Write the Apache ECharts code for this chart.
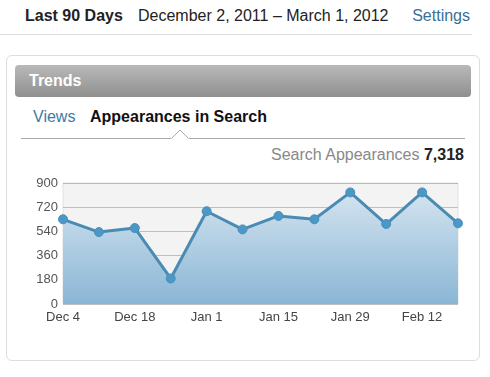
<!DOCTYPE html>
<html><head><meta charset="utf-8">
<script src="https://cdn.jsdelivr.net/npm/echarts@6/dist/echarts.min.js"></script>
<style>
html,body{margin:0;padding:0;width:490px;height:377px;background:#fff;overflow:hidden;font-family:"Liberation Sans",Arial,sans-serif;}
.abs{position:absolute;white-space:nowrap;}
#hdr1{left:25px;top:7px;font-size:16px;font-weight:bold;color:#222;}
#hdr2{left:138px;top:7px;font-size:16px;color:#222;}
#set{right:20px;top:7px;font-size:16px;color:#3b6e96;}
#hline{left:0;top:34px;width:472px;height:1px;background:#ddd;}
#panel{left:6px;top:55px;width:472px;height:304px;border:1px solid #ddd;border-radius:6px;}
#bar{left:15px;top:65px;width:456px;height:32px;border-radius:4px;background:linear-gradient(#b9b9b9,#8f8f8f);}
#trends{left:29px;top:72px;font-size:16px;font-weight:bold;color:#fff;}
#views{left:33px;top:108px;font-size:16px;color:#3a7aa8;}
#app{left:90px;top:108px;font-size:16px;font-weight:bold;color:#111;}
#tline{left:21px;top:138px;width:444px;height:1px;background:#aaa;}
#sa{right:26px;top:146px;font-size:16px;color:#888;}
#sa b{color:#222;}
#chart{left:0;top:0;width:490px;height:377px;}
</style></head>
<body>
<div class="abs" id="hdr1">Last 90 Days</div>
<div class="abs" id="hdr2">December 2, 2011 – March 1, 2012</div>
<div class="abs" id="set">Settings</div>
<div class="abs" id="hline"></div>
<div class="abs" id="panel"></div>
<div class="abs" id="bar"></div>
<div class="abs" id="trends">Trends</div>
<div class="abs" id="views">Views</div>
<div class="abs" id="app">Appearances in Search</div>
<div class="abs" id="tline"></div>
<svg class="abs" style="left:170px;top:129px" width="22" height="11"><polyline points="1,10 10,1 19,10" fill="#fff" stroke="#aaa" stroke-width="1"/><line x1="1.5" y1="10" x2="18.5" y2="10" stroke="#fff" stroke-width="1.2"/></svg>
<div class="abs" id="sa">Search Appearances <b>7,318</b></div>
<div class="abs" id="chart"></div>
<script>
var categories = ['Dec 4','Dec 11','Dec 18','Dec 25','Jan 1','Jan 8','Jan 15','Jan 22','Jan 29','Feb 5','Feb 12','Feb 19'];
var appearances = [630, 535, 565, 190, 690, 555, 655, 630, 830, 595, 830, 600];
var yTicks = [0, 180, 360, 540, 720, 900];

var chart = echarts.init(document.getElementById('chart'), null, {renderer:'canvas'});
chart.setOption({
  backgroundColor: 'transparent',
  animation: false,
  grid: {left: 63, top: 183, width: 395, height: 121, show: true, backgroundColor: '#f3f3f3', borderColor: '#e2e2e2', borderWidth: 1},
  xAxis: {
    type: 'category', data: categories, boundaryGap: false,
    axisLine: {show: false}, axisTick: {show: false},
    axisLabel: {interval: 1, color: '#444', fontSize: 13, fontFamily: 'Liberation Sans', margin: 7},
    splitLine: {show: false}
  },
  yAxis: {
    type: 'value', min: yTicks[0], max: yTicks[yTicks.length-1], interval: 180,
    axisLine: {show: false}, axisTick: {show: false},
    axisLabel: {color: '#555', fontSize: 13, fontFamily: 'Liberation Sans', margin: 5},
    splitLine: {lineStyle: {color: 'rgba(70,80,90,0.3)', width: 1}}
  },
  series: [{
    type: 'line', data: appearances,
    symbol: 'circle', symbolSize: 9,
    itemStyle: {color: '#4b97c5', borderColor: '#4a90bc', borderWidth: 1},
    lineStyle: {color: '#4a8bb4', width: 3},
    areaStyle: {
      opacity: 1,
      color: new echarts.graphic.LinearGradient(0, 183, 0, 304, [
        {offset: 0, color: '#d9e7f1'}, {offset: 1, color: '#8ab6d5'}
      ], true)
    },
    z: 3
  }]
});
</script>
</body></html>
